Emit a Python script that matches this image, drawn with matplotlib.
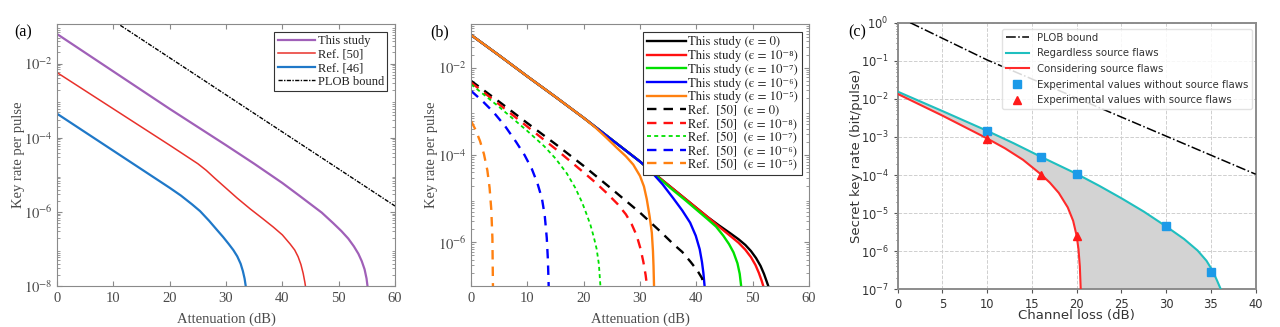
import numpy as np
import matplotlib
matplotlib.use("Agg")
import matplotlib.pyplot as plt
from matplotlib.ticker import NullFormatter

plt.rcParams['mathtext.fontset'] = 'stix'

# ---------------- Panel (a) data (log10 of key rate) ----------------
a_this_x = [0, 10, 20, 30, 35, 40, 43, 45, 47, 49, 50.5, 51.7, 52.7, 53.5, 54.1, 54.6, 54.95, 55.2]
a_this_log = [-1.2, -2.21, -3.22, -4.2, -4.7, -5.22, -5.56, -5.79, -6.02, -6.3, -6.52, -6.72, -6.93, -7.13, -7.33, -7.55, -7.8, -8.1]
a_r50_x = [0, 10, 20, 25, 26.5, 28, 30, 32, 34.3, 36.5, 38.4, 40, 41.4, 42.2, 42.8, 43.3, 43.7, 44.0, 44.2]
a_r50_log = [-2.24, -3.22, -4.2, -4.7, -4.88, -5.09, -5.36, -5.63, -5.92, -6.18, -6.41, -6.62, -6.87, -7.03, -7.21, -7.42, -7.66, -7.9, -8.1]
a_r46_x = [0, 10, 20, 22, 24, 25.4, 27, 28.3, 29.5, 30.5, 31.3, 32.0, 32.6, 33.0, 33.3, 33.6]
a_r46_log = [-3.35, -4.35, -5.35, -5.56, -5.8, -5.98, -6.24, -6.47, -6.68, -6.87, -7.03, -7.2, -7.4, -7.6, -7.8, -8.1]
a_plob_x = [10, 20, 30, 40, 50, 60]
a_plob_y = [1.44e-1, 1.44e-2, 1.44e-3, 1.44e-4, 1.44e-5, 1.44e-6]
a_labels = ["This study", "Ref. [50]", "Ref. [46]", "PLOB bound"]

# ---------------- Panel (b) data (log10 of key rate) ----------------
b_main_x = [0, 5, 10, 15, 20, 25, 30]
b_main_log = [-1.25, -1.72, -2.2, -2.67, -3.15, -3.65, -4.15]
b_black_x = [32, 34, 36, 38, 40, 42, 44, 46, 47.5, 48.7, 49.7, 50.6, 51.4, 52.0, 52.5, 52.9]
b_black_log = [-4.37, -4.58, -4.79, -5.0, -5.21, -5.42, -5.61, -5.79, -5.93, -6.06, -6.2, -6.36, -6.54, -6.72, -6.9, -7.05]
b_red_x = [32, 34, 36, 38, 40, 42, 44, 46, 47.5, 48.7, 49.7, 50.5, 51.1, 51.6, 52.0]
b_red_log = [-4.37, -4.58, -4.79, -5.0, -5.21, -5.42, -5.64, -5.85, -6.01, -6.17, -6.34, -6.52, -6.7, -6.88, -7.05]
b_green_x = [32, 34, 36, 38, 40, 42, 43.5, 44.8, 45.8, 46.6, 47.3, 47.7, 48.0]
b_green_log = [-4.38, -4.6, -4.82, -5.03, -5.25, -5.47, -5.64, -5.85, -6.04, -6.23, -6.48, -6.72, -7.05]
b_blue_x = [31, 32.4, 34, 35.9, 37.5, 38.9, 39.9, 40.6, 41.0, 41.25, 41.5]
b_blue_log = [-4.26, -4.44, -4.67, -4.99, -5.27, -5.55, -5.85, -6.16, -6.45, -6.7, -7.05]
b_orange_x = [22, 24, 26, 27.5, 28.8, 30, 30.7, 31.2, 31.7, 32.1, 32.3, 32.4, 32.5]
b_orange_log = [-3.36, -3.6, -3.85, -4.03, -4.22, -4.48, -4.72, -5.01, -5.4, -5.78, -6.2, -6.54, -7.05]

b_d_black_x = [0, 5, 10, 15, 17.6, 20, 25, 30, 33.6, 36, 37.5, 39, 40.2, 41, 41.5]
b_d_black_log = [-2.3, -2.78, -3.27, -3.75, -4.01, -4.25, -4.78, -5.32, -5.75, -6.05, -6.22, -6.45, -6.65, -6.82, -7.05]
b_d_red_x = [0, 5, 10, 15, 17.6, 20, 22, 24, 26, 27.5, 28.5, 29.4, 30.1, 30.6, 31.0, 31.3]
b_d_red_log = [-2.34, -2.84, -3.35, -3.86, -4.14, -4.4, -4.62, -4.86, -5.12, -5.36, -5.58, -5.84, -6.15, -6.45, -6.75, -7.05]
b_d_green_x = [0, 5, 10, 13, 15, 17, 18.5, 19.7, 20.5, 21.2, 21.8, 22.3, 22.7, 23.0]
b_d_green_log = [-2.38, -2.9, -3.45, -3.8, -4.08, -4.42, -4.75, -5.08, -5.35, -5.6, -5.88, -6.15, -6.5, -7.05]
b_d_blue_x = [0, 2, 4, 6, 8, 9.5, 10.8, 11.8, 12.6, 13.1, 13.45, 13.65, 13.8]
b_d_blue_log = [-2.53, -2.76, -3.02, -3.33, -3.7, -4.0, -4.32, -4.65, -5.0, -5.4, -5.9, -6.4, -7.05]
b_d_orange_x = [0, 0.8, 1.6, 2.3, 2.9, 3.3, 3.6, 3.8, 3.9]
b_d_orange_log = [-3.22, -3.42, -3.68, -3.98, -4.35, -4.75, -5.25, -5.9, -7.05]
b_labels = ["This study (\u03f5 = 0)", "This study (\u03f5 = 10\u207b\u2078)",
            "This study (\u03f5 = 10\u207b\u2077)", "This study (\u03f5 = 10\u207b\u2076)",
            "This study (\u03f5 = 10\u207b\u2075)", "Ref.  [50]  (\u03f5 = 0)",
            "Ref.  [50]  (\u03f5 = 10\u207b\u2078)", "Ref.  [50]  (\u03f5 = 10\u207b\u2077)",
            "Ref.  [50]  (\u03f5 = 10\u207b\u2076)", "Ref.  [50]  (\u03f5 = 10\u207b\u2075)"]

# ---------------- Panel (c) data ----------------
c_plob_x = [1.4, 10, 20, 30, 40]
c_plob_y = [1.0, 1.05e-1, 1.05e-2, 1.05e-3, 1.05e-4]
c_cyan_x = [0, 5, 10, 13, 16, 20, 22.5, 25, 27.5, 30, 32, 33.5, 34.5, 35.2, 35.7, 36.1]
c_cyan_log = [-1.81, -2.32, -2.84, -3.17, -3.52, -3.97, -4.28, -4.61, -4.96, -5.35, -5.68, -5.98, -6.25, -6.52, -6.78, -7.0]
c_red_x = [0, 5, 10, 12, 14, 16, 17, 18, 19, 19.6, 20, 20.2, 20.35, 20.45]
c_red_log = [-1.87, -2.44, -3.04, -3.3, -3.6, -3.98, -4.2, -4.47, -4.85, -5.2, -5.6, -5.95, -6.4, -7.0]
c_exp_wo_x = [10, 16, 20, 30, 35]
c_exp_wo_y = [1.45e-3, 3.0e-4, 1.05e-4, 4.5e-6, 2.8e-7]
c_exp_w_x = [10, 16, 20]
c_exp_w_y = [9.0e-4, 1.0e-4, 2.5e-6]
c_yticks = [1e-7, 1e-6, 1e-5, 1e-4, 1e-3, 1e-2, 1e-1, 1e0]
c_yticklabels = [r'$10^{-7}$', r'$10^{-6}$', r'$10^{-5}$', r'$10^{-4}$',
                 r'$10^{-3}$', r'$10^{-2}$', r'$10^{-1}$', r'$10^{0}$']
c_labels = ["PLOB bound", "Regardless source flaws", "Considering source flaws",
            "Experimental values without source flaws", "Experimental values with source flaws"]

W, H = 1280, 327
fig = plt.figure(figsize=(W / 100, H / 100), dpi=100)

SERIF = ['Liberation Serif', 'DejaVu Serif']
LEG_B = ['STIXGeneral', 'Liberation Serif', 'DejaVu Serif']
TXT = '#4a4a4a'
SP = '#8a8a8a'


def matlab_style(ax):
    for s in ax.spines.values():
        s.set_color(SP)
        s.set_linewidth(0.8)
    ax.tick_params(which='both', direction='in', top=True, right=True,
                   colors=SP, labelcolor=TXT, labelsize=10.5)
    ax.tick_params(axis='x', pad=4)
    ax.tick_params(axis='y', pad=3)
    ax.tick_params(which='major', length=3.5)
    ax.tick_params(which='minor', length=2)
    ax.yaxis.set_minor_formatter(NullFormatter())
    for lab in ax.get_xticklabels() + ax.get_yticklabels():
        lab.set_family(SERIF)


def pw(logs):
    return [10 ** v for v in logs]


# ---------------- (a) ----------------
axa = fig.add_axes([57 / W, 1 - 286 / H, 338 / W, 262 / H])
axa.set_yscale('log')
axa.plot(a_this_x, pw(a_this_log), color='#a060b8', lw=1.6, label=a_labels[0])
axa.plot(a_r50_x, pw(a_r50_log), color='#e8312b', lw=1.1, label=a_labels[1])
axa.plot(a_r46_x, pw(a_r46_log), color='#1f78c8', lw=1.6, label=a_labels[2])
axa.plot(a_plob_x, a_plob_y, color='black', lw=1.0, ls=(0, (3, 1, 1, 1)), label=a_labels[3])
axa.set_xlim(0, 60)
axa.set_ylim(1e-8, 10 ** -0.93)
axa.set_xticks([0, 10, 20, 30, 40, 50, 60])
axa.set_yticks([1e-8, 1e-6, 1e-4, 1e-2])
axa.set_yticklabels([r'$10^{-8}$', r'$10^{-6}$', r'$10^{-4}$', r'$10^{-2}$'])
matlab_style(axa)
axa.set_xlabel('Attenuation (dB)', family=SERIF, color=TXT, fontsize=10.5)
axa.set_ylabel('Key rate per pulse', family=SERIF, color=TXT, fontsize=10.5)
axa.xaxis.set_label_coords(0.5, -0.1)
axa.yaxis.set_label_coords(-0.094, 0.5)
lga = axa.legend(loc='upper right', prop={'family': SERIF, 'size': 9}, frameon=True,
                 fancybox=False, edgecolor='#333333', framealpha=1, handlelength=3.0,
                 handletextpad=0.2, labelspacing=0.12, borderpad=0.25, borderaxespad=0,
                 bbox_to_anchor=(0.976, 0.969))
lga.get_frame().set_linewidth(0.8)
for t in lga.get_texts():
    t.set_color('#222222')
fig.text(14 / W, 1 - 32 / H, '(a)', family=SERIF, fontsize=11.5, va='center', ha='left')

# ---------------- (b) ----------------
axb = fig.add_axes([471 / W, 1 - 286 / H, 338 / W, 262 / H])
axb.set_yscale('log')
lw_b = 1.7
axb.plot(b_main_x + b_black_x, pw(b_main_log + b_black_log), color='black', lw=lw_b, label=b_labels[0])
axb.plot(b_main_x + b_red_x, pw(b_main_log + b_red_log), color='#ff1010', lw=lw_b, label=b_labels[1])
axb.plot(b_main_x + b_green_x, pw(b_main_log + b_green_log), color='#00e000', lw=lw_b, label=b_labels[2])
axb.plot(b_main_x + b_blue_x, pw(b_main_log + b_blue_log), color='#0000ff', lw=lw_b, label=b_labels[3])
axb.plot(b_main_x[:5] + b_orange_x, pw(b_main_log[:5] + b_orange_log), color='#ff8010', lw=lw_b, label=b_labels[4])
dash = (0, (4, 3))
axb.plot(b_d_black_x, pw(b_d_black_log), color='black', lw=lw_b, ls=dash, label=b_labels[5])
axb.plot(b_d_red_x, pw(b_d_red_log), color='#ff1010', lw=lw_b, ls=dash, label=b_labels[6])
axb.plot(b_d_green_x, pw(b_d_green_log), color='#00e000', lw=1.3, ls=(0, (2.2, 1.8)), label=b_labels[7])
axb.plot(b_d_blue_x, pw(b_d_blue_log), color='#0000ff', lw=lw_b, ls=dash, label=b_labels[8])
axb.plot(b_d_orange_x, pw(b_d_orange_log), color='#ff8010', lw=lw_b, ls=dash, label=b_labels[9])
axb.set_xlim(0, 60)
axb.set_ylim(1e-7, 1e-1)
axb.set_xticks([0, 10, 20, 30, 40, 50, 60])
axb.set_yticks([1e-6, 1e-4, 1e-2])
axb.set_yticklabels([r'$10^{-6}$', r'$10^{-4}$', r'$10^{-2}$'])
matlab_style(axb)
axb.set_xlabel('Attenuation (dB)', family=SERIF, color=TXT, fontsize=10.5)
axb.set_ylabel('Key rate per pulse', family=SERIF, color=TXT, fontsize=10.5)
axb.xaxis.set_label_coords(0.5, -0.1)
axb.yaxis.set_label_coords(-0.097, 0.5)
lgb = axb.legend(loc='upper right', prop={'family': LEG_B, 'size': 9.2}, frameon=True,
                 fancybox=False, edgecolor='#333333', framealpha=1, handlelength=3.0,
                 handletextpad=0.2, labelspacing=0.12, borderpad=0.3, borderaxespad=0,
                 bbox_to_anchor=(0.979, 0.969))
lgb.get_frame().set_linewidth(0.8)
for t in lgb.get_texts():
    t.set_color('#222222')
fig.text(430 / W, 1 - 32 / H, '(b)', family=SERIF, fontsize=11.5, va='center', ha='left')

# ---------------- (c) ----------------
axc = fig.add_axes([897.7 / W, 1 - 289.3 / H, 358 / W, 266.6 / H])
axc.set_yscale('log')
axc.grid(True, which='major', ls='--', color='#cfcfcf', lw=0.7)
axc.set_axisbelow(True)
poly_x = list(c_cyan_x) + list(c_red_x[::-1])
poly_y = pw(c_cyan_log) + pw(c_red_log[::-1])
axc.fill(poly_x, poly_y, color='#d3d3d3', lw=0, zorder=1)
axc.plot(c_plob_x, c_plob_y, color='black', lw=1.1, ls='-.', label=c_labels[0], zorder=3)
axc.plot(c_cyan_x, pw(c_cyan_log), color='#1fbfbf', lw=1.5, label=c_labels[1], zorder=3)
axc.plot(c_red_x, pw(c_red_log), color='#ff2a2a', lw=1.5, label=c_labels[2], zorder=3)
axc.plot(c_exp_wo_x, c_exp_wo_y, ls='none', marker='s', ms=6, color='#1c9ae8', label=c_labels[3], zorder=4)
axc.plot(c_exp_w_x, c_exp_w_y, ls='none', marker='^', ms=6, color='#ff1a1a', label=c_labels[4], zorder=4)
axc.set_xlim(0, 40)
axc.set_ylim(1e-7, 1e0)
axc.set_xticks(np.arange(0, 41, 5))
axc.set_yticks(c_yticks)
ylabs_c = axc.set_yticklabels(c_yticklabels)
for lab in ylabs_c:
    lab.set_math_fontfamily('dejavusans')
axc.yaxis.set_minor_formatter(NullFormatter())
for s in axc.spines.values():
    s.set_color('#8c8c8c')
    s.set_linewidth(1.4)
axc.tick_params(which='both', labelsize=8.3, colors='#555555', labelcolor='#333333')
axc.tick_params(which='major', length=3)
axc.tick_params(which='minor', length=1.8)
axc.set_xlabel('Channel loss (dB)', fontsize=9.5, color='#333333', family='DejaVu Sans')
axc.set_ylabel('Secret key rate (bit/pulse)', fontsize=9.5, color='#333333', family='DejaVu Sans')
axc.xaxis.set_label_coords(0.5, -0.075)
axc.yaxis.set_label_coords(-0.097, 0.5)
lgc = axc.legend(loc='upper right', prop={'family': 'DejaVu Sans', 'size': 7.3}, frameon=True,
                 fancybox=True, framealpha=0.85, edgecolor='#dddddd', handlelength=2.2,
                 labelspacing=0.55, borderpad=0.4, borderaxespad=0,
                 bbox_to_anchor=(0.99, 0.977))
for t in lgc.get_texts():
    t.set_color('#333333')
fig.text(848 / W, 1 - 32 / H, '(c)', family=SERIF, fontsize=11.5, va='center', ha='left')

fig.savefig('out.png', dpi=100)
